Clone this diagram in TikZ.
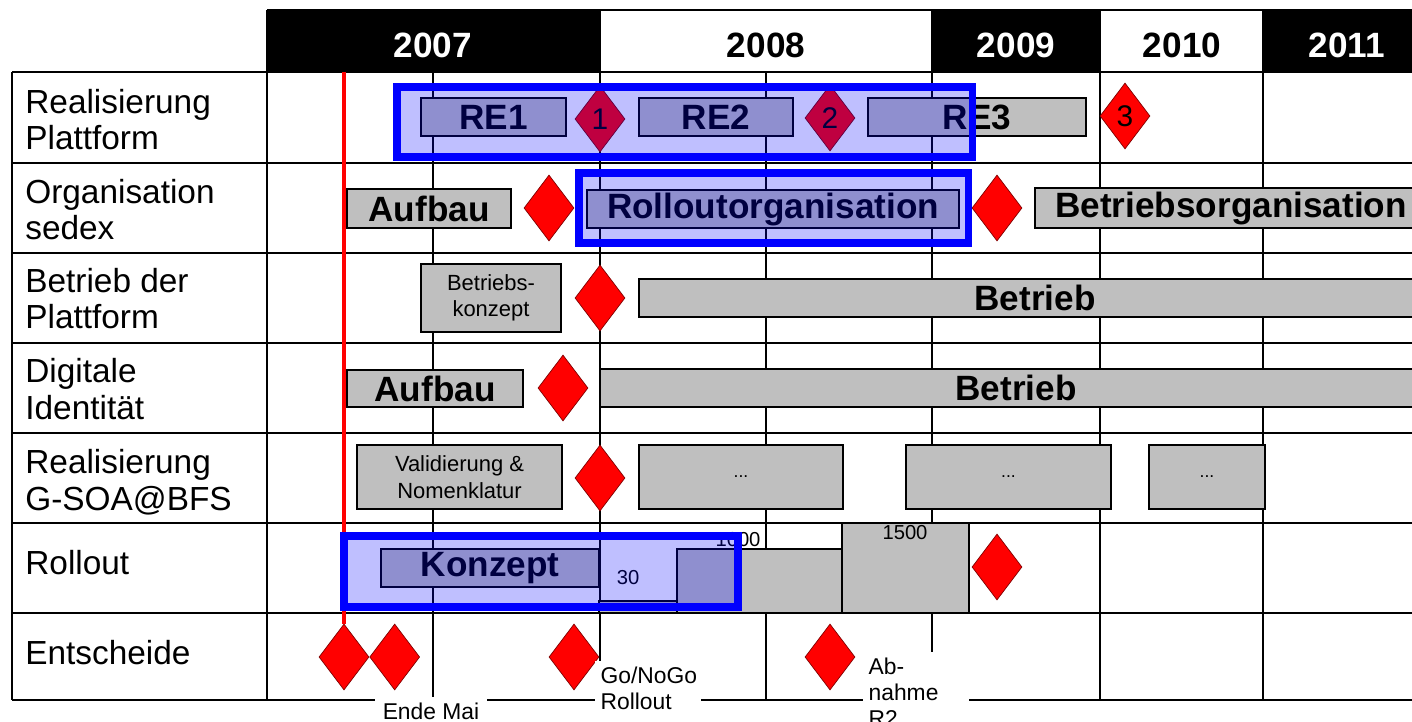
\documentclass[tikz,border=0pt]{standalone}
\usepackage{fontspec}
\setmainfont{Liberation Sans}
\usetikzlibrary{shapes.geometric,fit,positioning}

\begin{document}
\begin{tikzpicture}[x=0.02cm, y=-0.02cm,
    gridline/.style={line width=1.3pt},
    phase/.style={draw, fill=black!25, line width=0.8pt, inner sep=0pt,
      minimum height=0.76cm, font=\fontsize{20}{24}\selectfont\bfseries},
    smalltxt/.style={align=center, font=\fontsize{12.5}{15}\selectfont},
    dots/.style={font=\fontsize{10}{12}\selectfont},
    ms/.style={diamond, fill=red, draw=red!50!black, line width=0.4pt,
      inner sep=0pt, minimum width=1cm, minimum height=1.32cm,
      font=\fontsize{17}{20}\selectfont},
    hl/.style={draw=blue, line width=4pt, fill=blue, fill opacity=0.25,
      inner sep=0pt},
    lab/.style={anchor=base west, align=left, inner xsep=0pt,
      font=\fontsize{19}{21}\selectfont},
    yr/.style={font=\fontsize{20}{24}\selectfont\bfseries},
    num/.style={inner sep=1pt, font=\fontsize{11.5}{13}\selectfont},
    dlabel/.style={fill=white, inner sep=3pt, font=\fontsize{13}{14.8}\selectfont},
    nowline/.style={red, line width=2.2pt}]
  \useasboundingbox (0,0) rectangle (1412,722);%
  \clip (0,0) rectangle (1412,722);%
  \fill[white] (0,0) rectangle (1412,722);%
  % years
  \fill (267,10) rectangle (600,72);%
  \draw[gridline] (600,10) rectangle (932,72);%
  \fill (932,10) rectangle (1100,72);%
  \draw[gridline] (1100,10) rectangle (1263,72);%
  \fill (1263,10) rectangle (1412,72);%
  \node[yr, text=white] (y07) at (433,45) {2007};%
  \node[yr] (y08) at (766,45) {2008};%
  \node[yr, text=white] (y09) at (1016,45) {2009};%
  \node[yr] (y10) at (1182,45) {2010};%
  \node[yr, text=white] (y11) at (1347,45) {2011};%
  % table
  \foreach \y in {72,163,253,343,433,523,613,700}
    \draw[gridline] (12,\y) -- (1412,\y);%
  \draw[gridline] (12,72) -- (12,700) (267,10) -- (267,700) (267,10) -- (1412,10);%
  \foreach \x in {433,600,766,932,1100,1263}
    \draw[gridline] (\x,72) -- (\x,700);%
  \node[lab] (r1) at (25,150) {Realisierung\\Plattform};%
  \node[lab] (r2) at (25,240) {Organisation\\sedex};%
  \node[lab] (r3) at (25,329) {Betrieb der\\Plattform};%
  \node[lab] (r4) at (25,419) {Digitale\\Identität};%
  \node[lab] (r5) at (25,510) {Realisierung\\G-SOA@BFS};%
  \node[lab] (r6) at (25,574) {Rollout};%
  \node[lab] (r7) at (25,664) {Entscheide};%
  % phases
  \node[phase, minimum width=2.9cm] (re1) at (493.5,117) {RE1};%
  \node[phase, minimum width=3.08cm] (re2) at (716,117) {RE2};%
  \node[phase, minimum width=4.36cm] (re3) at (977,117) {RE3};%
  \node[phase, minimum width=3.28cm, minimum height=0.78cm] (auf1) at (429,208.5) {Aufbau};%
  \node[phase, minimum width=7.44cm] (rorg) at (773,209) {Rolloutorganisation};%
  \node[phase, minimum width=7.84cm, minimum height=0.8cm] (borg) at (1231,208) {Betriebsorganisation};%
  \node[phase, smalltxt, minimum width=2.8cm, minimum height=1.36cm] (bkon) at (491,298)
    {Betriebs-\\konzept};%
  \node[phase, minimum width=15.84cm] (betr1) at (1035,298) {Betrieb};%
  \node[phase, minimum width=3.52cm, minimum height=0.74cm] (auf2) at (435,388.5) {Aufbau};%
  \node[phase, minimum width=16.64cm] (betr2) at (1016,388) {Betrieb};%
  \node[phase, smalltxt, minimum width=4.1cm, minimum height=1.28cm] (valid) at (459.5,477)
    {Validierung \&\\Nomenklatur};%
  \node[phase, dots, minimum width=4.08cm, minimum height=1.28cm] (soa1) at (741,477) {...};%
  \node[phase, dots, minimum width=4.1cm, minimum height=1.28cm] (soa2) at (1008.5,477) {...};%
  \node[phase, dots, minimum width=2.32cm, minimum height=1.28cm] (soa3) at (1207,477) {...};%
  \node[phase, minimum width=4.36cm] (konz) at (490,568) {Konzept};%
  \node[phase, minimum width=1.56cm, minimum height=0.24cm] (b30) at (638,607) {};%
  \node[phase, minimum width=3.3cm, minimum height=1.28cm] (b1000) at (759.5,581) {};%
  \node[phase, minimum width=2.54cm, minimum height=1.8cm] (b1500) at (905.5,568) {};%
  \node[num] (n30) at (628,578) {30};%
  \node[num] (n1000) at (738,540) {1000};%
  \node[num] (n1500) at (905,533) {1500};%
  % milestones
  \node[ms] (d1) at (600,119) {1};%
  \node[ms] (d2) at (830,118) {2};%
  \node[ms] (d3) at (1125,116) {3};%
  \node[ms] (d4) at (549,208) {};%
  \node[ms] (d5) at (997,208) {};%
  \node[ms] (d6) at (600,298) {};%
  \node[ms] (d7) at (563,388) {};%
  \node[ms] (d8) at (600,478) {};%
  \node[ms] (d9) at (997,567) {};%
  \node[ms] (e1) at (344,657) {};%
  \node[ms, right=0pt of e1] (e2) {};%
  \node[ms] (e3) at (574,657) {};%
  \node[ms] (e4) at (830,657) {};%
  \coordinate (now) at (344,72);%
  \draw[nowline] (now) -- (e1.north);%
  % highlights
  \node[hl, fit={(397,87)(972,157)}] (hlre) {};%
  \node[hl, fit={(579,173)(968,243)}] (hlorg) {};%
  \node[hl, fit={(344,536)(738,607)}] (hlroll) {};%
  % decisions
  \node[dlabel, anchor=north, minimum width=2.26cm] (l1) at (431,697) {Ende Mai};%
  \node[dlabel, anchor=north west, text width=1.9cm, align=left] (l2) at (595,661)
    {Go/NoGo\\Rollout};%
  \node[dlabel, anchor=north west, text width=1.9cm, align=left] (l3) at (863,652)
    {Ab-\\nahme\\R2};%
\end{tikzpicture}
\end{document}
